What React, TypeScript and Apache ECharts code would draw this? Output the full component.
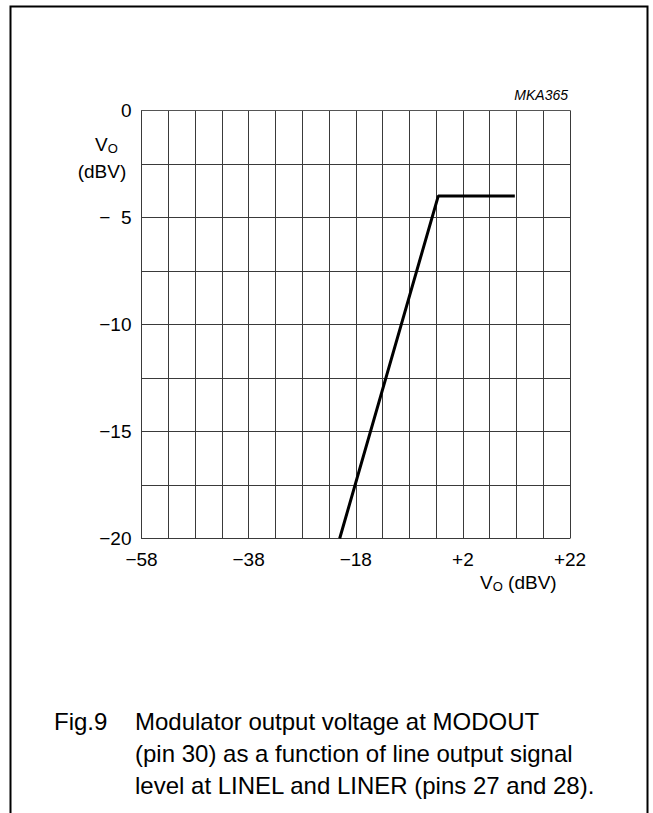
import React, { useEffect, useRef } from "react";
import * as echarts from "echarts";

// Input level (dBV) vs modulator output (dBV)
const inputLevel = [-21, -2.6, 11.7];
const outputLevel = [-20, -4, -4];

const xTickValues = [-58, -38, -18, 2, 22];
const xTickLabels = ["\u221258", "\u221238", "\u221218", "+2", "+22"];
const yTickValues = [0, -5, -10, -15, -20];
const yTickLabels = ["0", "\u2212\u20075", "\u221210", "\u221215", "\u221220"];

const captionNo = "Fig.9";
const captionLines = [
  "Modulator output voltage at MODOUT",
  "(pin 30) as a function of line output signal",
  "level at LINEL and LINER (pins 27 and 28).",
];

const X_MIN = -58;
const X_MAX = 22;

export default function App() {
  const ref = useRef<HTMLDivElement>(null);
  useEffect(() => {
    if (!ref.current) return;
    const chart = echarts.init(ref.current, null, { renderer: "svg" });
    const font = "'Liberation Sans', Arial, sans-serif";
    const data = inputLevel.map((x, i) => [x - X_MIN, outputLevel[i]]);
    chart.setOption({
      animation: false,
      backgroundColor: "#fff",
      grid: { left: 141.5, top: 110.5, right: 83, bottom: 274.5, containLabel: false },
      xAxis: {
        type: "value",
        min: 0,
        max: X_MAX - X_MIN,
        interval: 5,
        axisLine: { show: true, lineStyle: { color: "#555", width: 1 } },
        axisTick: { show: false },
        splitLine: { show: true, lineStyle: { color: "#3a3a3a", width: 1 } },
        axisLabel: {
          margin: 11,
          fontSize: 19,
          fontFamily: font,
          color: "#000",
          showMinLabel: true,
          showMaxLabel: true,
          formatter: (v: number) => {
            const idx = xTickValues.indexOf(Math.round(v + X_MIN));
            return idx >= 0 ? xTickLabels[idx] : "";
          },
        },
      },
      yAxis: {
        type: "value",
        min: -20,
        max: 0,
        interval: 2.5,
        axisLine: { show: true, lineStyle: { color: "#3a3a3a", width: 1 } },
        axisTick: { show: false },
        splitLine: { show: true, lineStyle: { color: "#3a3a3a", width: 1 } },
        axisLabel: {
          margin: 10,
          fontSize: 19,
          fontFamily: font,
          color: "#000",
          formatter: (v: number) => {
            const idx = yTickValues.indexOf(v);
            return idx >= 0 ? yTickLabels[idx] : "";
          },
        },
      },
      series: [
        {
          type: "line",
          data,
          symbol: "none",
          lineStyle: { color: "#000", width: 3 },
          silent: true,
        },
      ],
      graphic: [
        {
          type: "polyline",
          shape: { points: [[10.5, 813], [10.5, 6.5], [647.5, 6.5], [647.5, 813]] },
          style: { stroke: "#000", lineWidth: 2, fill: "none" },
          silent: true,
        },
        {
          type: "text",
          x: 568,
          y: 95,
          style: { text: "MKA365", fontSize: 14, fontStyle: "italic", fontFamily: font, fill: "#000", align: "right", verticalAlign: "middle" },
        },
        {
          type: "text",
          x: 95,
          y: 144,
          style: {
            text: "{v|V}{s|O}",
            align: "left",
            verticalAlign: "middle",
            rich: {
              v: { fontSize: 19, fontFamily: font, fill: "#000" },
              s: { fontSize: 13, fontFamily: font, fill: "#000", padding: [9, 0, 0, 0] },
            },
          },
        },
        {
          type: "text",
          x: 102,
          y: 171,
          style: { text: "(dBV)", fontSize: 19, fontFamily: font, fill: "#000", align: "center", verticalAlign: "middle" },
        },
        {
          type: "text",
          x: 480,
          y: 582,
          style: {
            text: "{v|V}{s|O}{v| (dBV)}",
            align: "left",
            verticalAlign: "middle",
            rich: {
              v: { fontSize: 19, fontFamily: font, fill: "#000" },
              s: { fontSize: 13, fontFamily: font, fill: "#000", padding: [9, 0, 0, 0] },
            },
          },
        },
        {
          type: "text",
          x: 54,
          y: 721,
          style: { text: captionNo, fontSize: 24, fontFamily: font, fill: "#000", verticalAlign: "middle" },
        },
        ...captionLines.map((t, i) => ({
          type: "text",
          x: 135,
          y: 721 + i * 32,
          style: { text: t, fontSize: 24, fontFamily: font, fill: "#000", verticalAlign: "middle" },
        })),
      ],
    });
    return () => chart.dispose();
  }, []);
  return (
    <div
      ref={ref}
      style={{ position: "absolute", left: 0, top: 0, width: 653, height: 813, background: "#fff" }}
    />
  );
}
